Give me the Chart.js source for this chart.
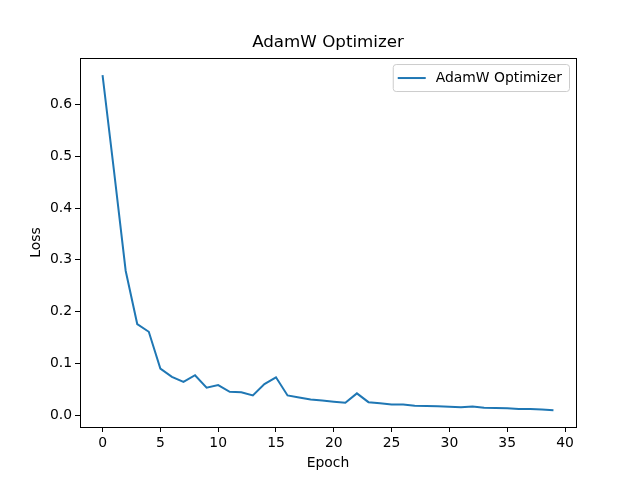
<!DOCTYPE html>
<html>
<head>
<meta charset="utf-8">
<script src="https://cdn.jsdelivr.net/npm/chart.js@4.4.0/dist/chart.umd.min.js"></script>
<style>
  html, body { margin: 0; padding: 0; background: #fff; }
  #wrap { width: 640px; height: 480px; }
</style>
</head>
<body>
<div id="wrap"><canvas id="lossChart" width="640" height="480"></canvas></div>
<script>
// values
const epochs = Array.from({ length: 40 }, (_, i) => i);
const adamwLoss = [
  0.657, 0.470, 0.279, 0.176, 0.161, 0.090, 0.074, 0.064, 0.077, 0.053,
  0.058, 0.045, 0.044, 0.038, 0.060, 0.073, 0.038, 0.034, 0.030, 0.028,
  0.026, 0.024, 0.042, 0.025, 0.023, 0.0205, 0.0205, 0.018, 0.0175, 0.017,
  0.016, 0.015, 0.0167, 0.014, 0.0135, 0.013, 0.012, 0.012, 0.011, 0.0096
];
const xTicks = [0, 5, 10, 15, 20, 25, 30, 35, 40];
const yTicks = [0.0, 0.1, 0.2, 0.3, 0.4, 0.5, 0.6];

const FONT = "'DejaVu Sans', sans-serif";
const LINE = '#1f77b4';

// frame around the axes + legend box in the upper right
const framePlugin = {
  id: 'frame',
  afterDraw(chart) {
    const { ctx, chartArea: a } = chart;
    ctx.save();
    ctx.strokeStyle = '#000';
    ctx.lineWidth = 1;
    ctx.strokeRect(Math.round(a.left) + 0.5, Math.round(a.top) + 0.5,
      Math.round(a.right - a.left), Math.round(a.bottom - a.top));

    // legend
    const label = chart.data.datasets[0].label;
    ctx.font = '13.9px ' + FONT;
    const tw = ctx.measureText(label).width;
    const w = tw + 50, h = 27;
    const x = a.right - 7 - w, y = a.top + 6;
    ctx.fillStyle = 'rgba(255,255,255,0.8)';
    ctx.strokeStyle = '#cccccc';
    ctx.beginPath();
    ctx.roundRect(x + 0.5, y + 0.5, w, h, 3);
    ctx.fill();
    ctx.stroke();
    ctx.strokeStyle = LINE;
    ctx.lineWidth = 2;
    ctx.beginPath();
    ctx.moveTo(x + 5, y + h / 2 + 0.5);
    ctx.lineTo(x + 33, y + h / 2 + 0.5);
    ctx.stroke();
    ctx.fillStyle = '#000';
    ctx.textBaseline = 'middle';
    ctx.fillText(label, x + 43, y + h / 2 + 1);
    ctx.restore();
  }
};

const ctx = document.getElementById('lossChart').getContext('2d');
const lossChart = new Chart(ctx, {
  type: 'line',
  data: {
    datasets: [{
      label: 'AdamW Optimizer',
      data: epochs.map((e, i) => ({ x: e, y: adamwLoss[i] })),
      borderColor: LINE,
      borderWidth: 2,
      pointRadius: 0,
      tension: 0,
      fill: false
    }]
  },
  options: {
    responsive: false,
    animation: false,
    layout: { padding: { left: 0, right: 64, top: 0, bottom: 0 } },
    plugins: {
      legend: { display: false },
      tooltip: { enabled: false },
      title: {
        display: true,
        text: 'AdamW Optimizer',
        fullSize: false,
        color: '#000',
        font: { family: FONT, size: 16.7, weight: 'normal', lineHeight: 1.2 },
        padding: { top: 33, bottom: 5 }
      }
    },
    scales: {
      x: {
        type: 'linear',
        min: -1.95,
        max: 40.95,
        afterBuildTicks: s => { s.ticks = xTicks.map(v => ({ value: v })); },
        afterFit: s => { s.height = 53; },
        grid: { display: true, drawOnChartArea: false, tickLength: 5, tickColor: '#000', tickWidth: 1 },
        border: { display: false },
        ticks: { color: '#000', padding: 3, maxRotation: 0, font: { family: FONT, size: 13.9 },
                 callback: v => String(v) },
        title: { display: true, text: 'Epoch', color: '#000',
                 font: { family: FONT, size: 13.9 }, padding: { top: 4, bottom: 8 } }
      },
      y: {
        type: 'linear',
        min: -0.023,
        max: 0.690,
        afterBuildTicks: s => { s.ticks = yTicks.map(v => ({ value: v })); },
        afterFit: s => { s.width = 80; },
        grid: { display: true, drawOnChartArea: false, tickLength: 5, tickColor: '#000', tickWidth: 1 },
        border: { display: false },
        ticks: { color: '#000', padding: 3, font: { family: FONT, size: 13.9 },
                 callback: v => v.toFixed(1) },
        title: { display: true, text: 'Loss', color: '#000',
                 font: { family: FONT, size: 13.9 }, padding: { top: 28, bottom: 0 } }
      }
    }
  },
  plugins: [framePlugin]
});
</script>
</body>
</html>
